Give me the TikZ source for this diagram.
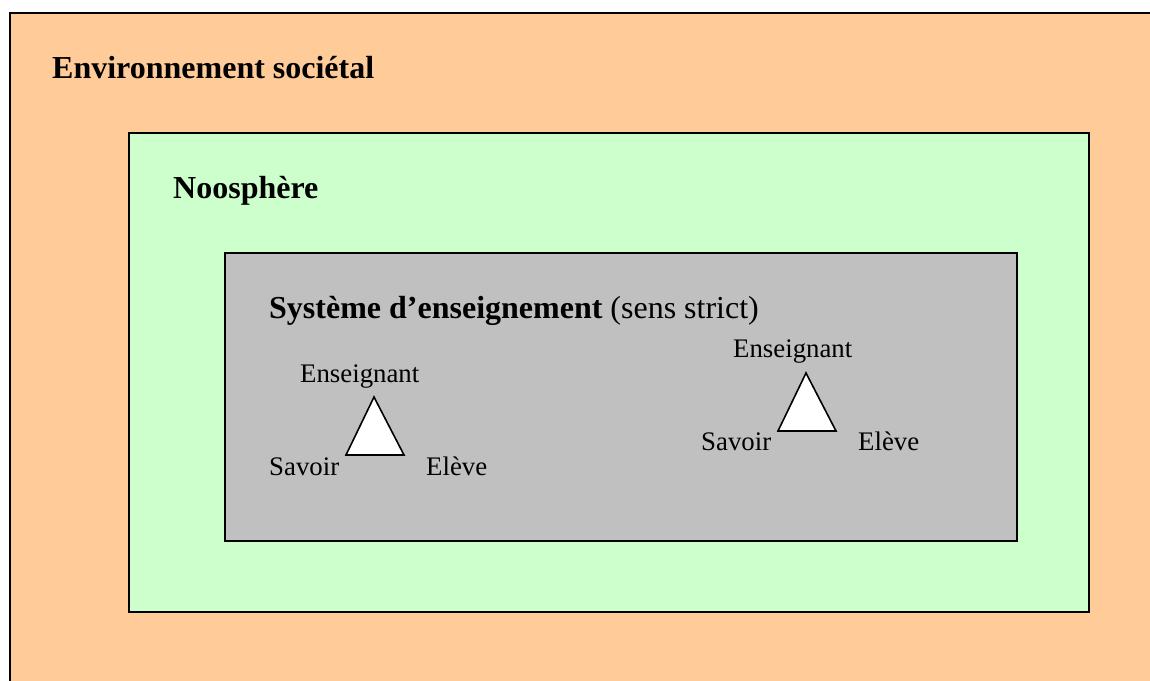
\documentclass[tikz,border=0pt]{standalone}
\usepackage{fontspec}
\setmainfont{Liberation Serif}
\definecolor{envfill}{HTML}{FFCC99}
\definecolor{noofill}{HTML}{CCFFCC}
\definecolor{sysfill}{HTML}{C0C0C0}
\begin{document}
\begin{tikzpicture}[x=1pt,y=-1pt,
  box/.style={draw=black,line width=2pt},
  big/.style={font=\fontsize{32}{36}\selectfont\bfseries,anchor=base west,inner sep=0pt},
  small/.style={font=\fontsize{26.8}{30}\selectfont,anchor=base west,inner sep=0pt},
  tri/.style={draw=black,fill=white,line width=1.6pt,line join=miter}]
\clip (0,0) rectangle (1150,680);
\useasboundingbox (0,0) rectangle (1150,680);
\fill[white] (0,0) rectangle (1150,680);
\draw[box,fill=envfill] (10,13) rectangle (1170,700);
\draw[box,fill=noofill] (129,133) rectangle (1089,612);
\draw[box,fill=sysfill] (225,253) rectangle (1017,541);
\node[big] (env) at (52,78) {Environnement sociétal};
\node[big] (noo) at (173,198) {Noosphère};
\node[big] (sys) at (269,318) {Système d’enseignement\mdseries\ (sens strict)};
% left triangle
\coordinate (la) at (374,397);
\coordinate (lb) at (346,455);
\coordinate (lc) at (404,455);
\draw[tri] (la) -- (lb) -- (lc) -- cycle;
\node[small] (le) at (300,382) {Enseignant};
\node[small] (ls) at (269,475) {Savoir};
\node[small] (lv) at (426,475) {Elève};
% right triangle
\coordinate (ra) at (806,373);
\coordinate (rb) at (778,431);
\coordinate (rc) at (836,431);
\draw[tri] (ra) -- (rb) -- (rc) -- cycle;
\node[small] (re) at (733,357) {Enseignant};
\node[small] (rs) at (701,450) {Savoir};
\node[small] (rv) at (858,450) {Elève};
\end{tikzpicture}
\end{document}
